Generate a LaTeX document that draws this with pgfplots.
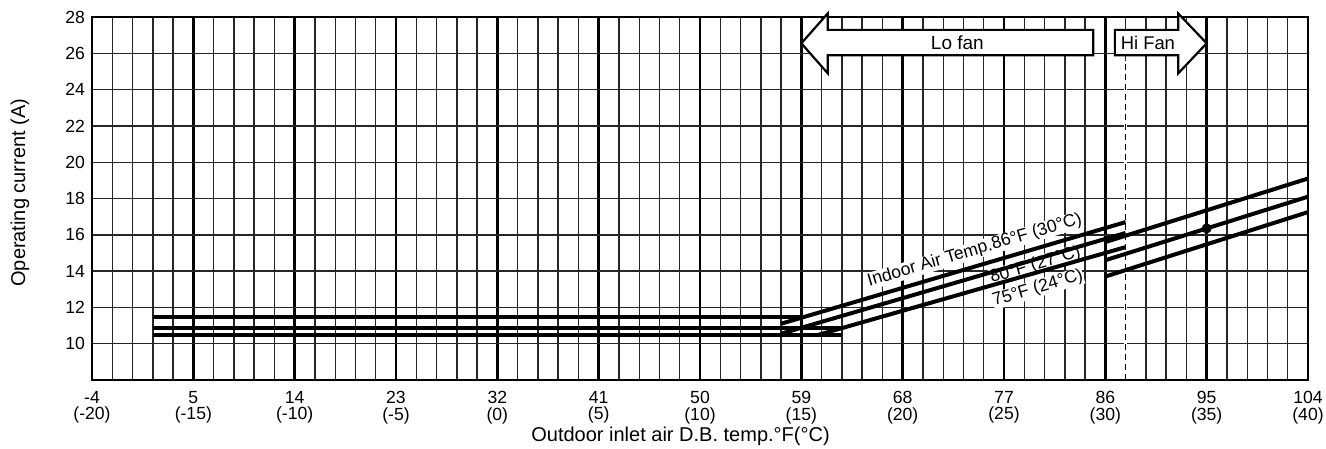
\documentclass[border=0pt]{standalone}
\usepackage{fontspec}
\setmainfont{Liberation Sans}
\usepackage{pgfplots}
\pgfplotsset{compat=1.18}
\begin{document}
\begin{tikzpicture}
\begin{axis}[
  name=ax,
  scale only axis,
  width=608pt, height=181.5pt,
  xmin=-20, xmax=40, ymin=8, ymax=28,
  xtick={-20,-15,...,40},
  xticklabels={{-4\\(-20)},{5\\(-15)},{14\\(-10)},{23\\(-5)},{32\\(0)},{41\\(5)},{50\\(10)},{59\\(15)},{68\\(20)},{77\\(25)},{86\\(30)},{95\\(35)},{104\\(40)}},
  minor xtick={-19,-18,...,39},
  ytick={10,12,...,28},
  grid=both,
  major x grid style={black, line width=1.25pt},
  minor x grid style={black!85, line width=0.7pt},
  major y grid style={black!85, line width=0.7pt},
  axis line style={line width=1.1pt},
  major tick length=0pt, minor tick length=0pt,
  tick label style={font=\fontsize{8.8}{8.4}\selectfont},
  xticklabel style={align=center, yshift=-2pt},
  /pgf/number format/assume math mode=true,
  xlabel={Outdoor inlet air D.B. temp.°F(°C)},
  ylabel={Operating current (A)},
  label style={font=\fontsize{10}{12}\selectfont},
  xlabel style={at={(axis description cs:0.484,0)}, anchor=center, yshift=-28.4pt},
  ylabel style={at={(axis description cs:-0.0592,0.516)}, anchor=center},
  clip=false,
]
% dashed separator at 31 C
\draw[white, line width=1.4pt] (axis cs:31,8.05) -- (axis cs:31,25.6);
\draw[black, line width=0.6pt, dash pattern=on 3pt off 2pt] (axis cs:31,8) -- (axis cs:31,25.56);
% curve labels (under the lines)
\node[rotate=16.4, fill=white, inner sep=0.2pt, font=\fontsize{8.8}{9}\selectfont] at (axis cs:23.56,15.14) {Indoor Air Temp.86°F (30°C)};
\node[rotate=16.4, fill=white, inner sep=0.2pt, font=\fontsize{8.8}{9}\selectfont] at (axis cs:26.55,14.32) {80°F (27°C)};
\node[rotate=16.4, fill=white, inner sep=0.2pt, font=\fontsize{8.8}{9}\selectfont] at (axis cs:26.67,13.05) {75°F (24°C)};
% horizontal parts
\addplot[black, line width=2pt] coordinates {(-17,11.47) (15,11.47)};
\addplot[black, line width=2pt] coordinates {(-17,10.84) (17,10.84)};
\addplot[black, line width=2pt] coordinates {(-17,10.46) (17,10.46)};
% Lo fan sloped parts
\addplot[black, line width=2pt] coordinates {(14.0,11.10) (31.0,16.70)};
\addplot[black, line width=2pt] coordinates {(14.0,10.55) (31.0,16.10)};
\addplot[black, line width=2pt] coordinates {(15.75,10.46) (31.0,15.32)};
% Hi fan parts
\addplot[black, line width=2pt] coordinates {(30,15.60) (40,19.10)};
\addplot[black, line width=2pt] coordinates {(30,14.60) (40,18.10)};
\addplot[black, line width=2pt] coordinates {(30,13.70) (40,17.25)};
\addplot[black, only marks, mark=*, mark size=2.3pt] coordinates {(35,16.35)};
% arrows
\draw[line width=1.1pt, fill=white] (axis cs:29.4,25.89) -- (axis cs:16.3,25.89) -- (axis cs:16.3,24.9) -- (axis cs:15,26.55) -- (axis cs:16.3,28.19) -- (axis cs:16.3,27.29) -- (axis cs:29.4,27.29) -- cycle;
\node[font=\fontsize{9.5}{10}\selectfont] at (axis cs:22.7,26.59) {Lo fan};
\draw[line width=1.1pt, fill=white] (axis cs:30.47,25.89) -- (axis cs:33.6,25.89) -- (axis cs:33.6,24.9) -- (axis cs:35,26.55) -- (axis cs:33.6,28.19) -- (axis cs:33.6,27.29) -- (axis cs:30.47,27.29) -- cycle;
\node[font=\fontsize{9.2}{10}\selectfont] at (axis cs:32.1,26.59) {Hi Fan};
\end{axis}
\pgfresetboundingbox
\path[use as bounding box] ([xshift=-46pt,yshift=-34.5pt]ax.south west) rectangle ([xshift=9pt,yshift=8.5pt]ax.north east);
\end{tikzpicture}
\end{document}
